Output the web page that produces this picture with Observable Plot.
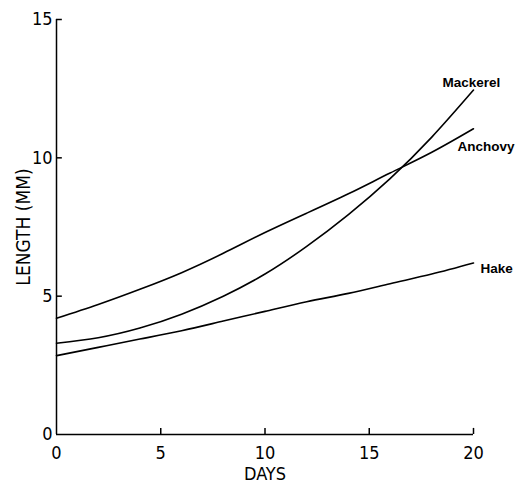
<!DOCTYPE html>
<html>
<head>
<meta charset="utf-8">
<script src="https://cdn.jsdelivr.net/npm/d3@7"></script>
<script src="https://cdn.jsdelivr.net/npm/@observablehq/plot@0.6"></script>
<style>
  html, body { margin: 0; padding: 0; background: #fff; }
  #chart { width: 526px; height: 485px; }
</style>
</head>
<body>
<div id="chart"></div>
<script>
// ---- data ----
const days = [0, 2, 4, 6, 8, 10, 12, 14, 16, 18, 20];
const mackerel = [3.3, 3.5, 3.85, 4.35, 5.0, 5.8, 6.8, 7.95, 9.25, 10.75, 12.45];
const anchovy  = [4.2, 4.7, 5.25, 5.85, 6.55, 7.3, 8.0, 8.7, 9.45, 10.2, 11.05];
const hake     = [2.85, 3.15, 3.45, 3.75, 4.1, 4.45, 4.8, 5.1, 5.45, 5.8, 6.2];
const seriesNames = ["Mackerel", "Anchovy", "Hake"];
const xTicks = [0, 5, 10, 15, 20];
const yTicks = [0, 5, 10, 15];
const xTitle = "DAYS";
const yTitle = "LENGTH (MM)";

// ---- label placement (style) ----
const labelOffset = {Mackerel: [-31, -7], Anchovy: [-16, 18], Hake: [7, 6]};

const seriesValues = {Mackerel: mackerel, Anchovy: anchovy, Hake: hake};
const rows = seriesNames.flatMap(name => days.map((d, i) => ({series: name, day: d, len: seriesValues[name][i]})));
const ends = seriesNames.map(name => ({series: name, day: days[days.length - 1], len: seriesValues[name][days.length - 1]}));

const tickFont = "'DejaVu Sans Condensed', 'Liberation Sans Narrow', 'DejaVu Sans', sans-serif";

const chart = Plot.plot({
  width: 526,
  height: 485,
  marginLeft: 56,
  marginRight: 53,
  marginTop: 19,
  marginBottom: 51,
  style: {fontFamily: tickFont, fontSize: "18px", color: "#000", background: "#fff"},
  x: {domain: [0, 20]},
  y: {domain: [0, 15]},
  marks: [
    Plot.axisX(xTicks, {tickSize: 0, tickPadding: 12, label: null, fontSize: 18}),
    Plot.axisY(yTicks, {tickSize: 0, tickPadding: 4, label: null, fontSize: 18}),
    // inward ticks
    Plot.ruleX(xTicks.slice(1), {x: d => d, y1: 0, y2: 0.22, stroke: "#000", strokeWidth: 1.5}),
    Plot.ruleY(yTicks.slice(1), {y: d => d, x1: 0, x2: 0.28, stroke: "#000", strokeWidth: 1.5}),
    // axis titles
    Plot.text([xTitle], {frameAnchor: "bottom", text: d => d, lineAnchor: "middle", textAnchor: "middle", dy: 40, fontSize: 18}),
    Plot.text([yTitle], {frameAnchor: "left", text: d => d, rotate: -90, textAnchor: "middle", lineAnchor: "middle", dx: -33, fontSize: 19, letterSpacing: "1px"}),
    // axis lines
    Plot.ruleY([0], {x1: 0, x2: 20, stroke: "#000", strokeWidth: 1.5}),
    Plot.ruleX([0], {y1: 0, y2: 15, stroke: "#000", strokeWidth: 1.5}),
    // series
    Plot.line(rows, {x: "day", y: "len", z: "series", curve: "natural", stroke: "#000", strokeWidth: 1.6}),
    ...seriesNames.map(name => Plot.text(ends.filter(e => e.series === name), {
      x: "day", y: "len", text: "series", textAnchor: "start",
      dx: labelOffset[name][0], dy: labelOffset[name][1],
      fontFamily: "'Liberation Sans', Arial, sans-serif", fontWeight: "bold", fontSize: 13.5,
      fill: "#000", letterSpacing: "0.5px"
    }))
  ]
});
document.getElementById("chart").appendChild(chart);
</script>
</body>
</html>
